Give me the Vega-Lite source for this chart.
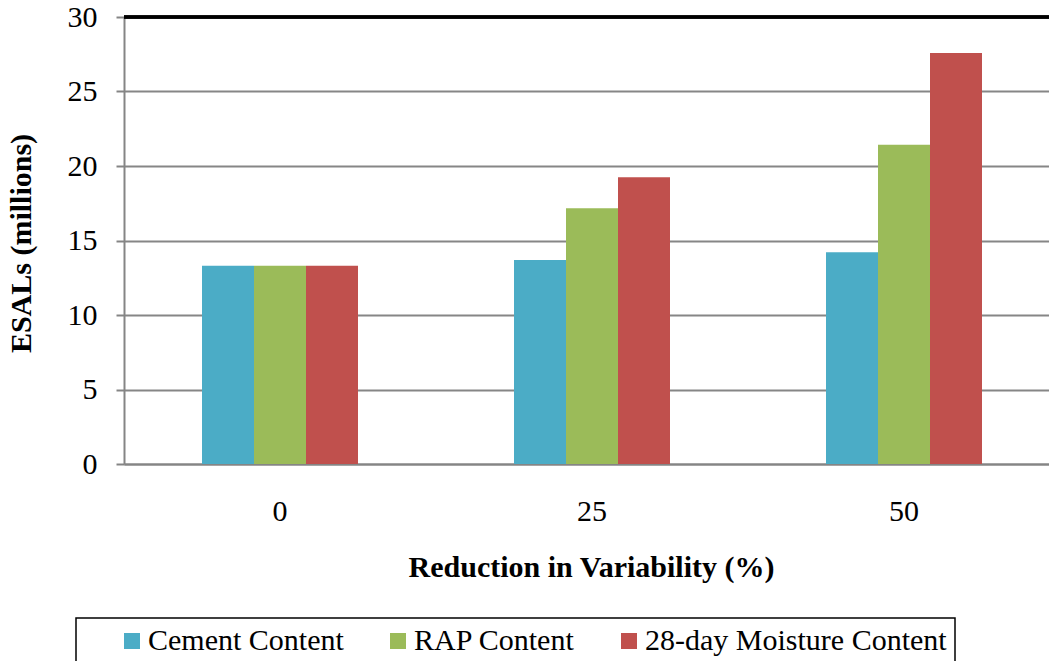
{
  "$schema": "https://vega.github.io/schema/vega-lite/v6.json",
  "width": 925,
  "height": 447,
  "autosize": {"type": "none"},
  "padding": {"left": 124, "top": 17, "right": 0, "bottom": 197},
  "background": "white",
  "config": {
    "view": {"stroke": null},
    "font": "Liberation Serif",
    "legend": {"strokeColor": "black", "strokeWidth": 1.5, "labelFont": "Liberation Serif"},
    "axis": {"labelFont": "Liberation Serif", "titleFont": "Liberation Serif"}
  },
  "data": {
    "values": [
      {"reduction": "0", "series": "Cement Content", "esals": 13.31},
      {"reduction": "0", "series": "RAP Content", "esals": 13.31},
      {"reduction": "0", "series": "28-day Moisture Content", "esals": 13.31},
      {"reduction": "25", "series": "Cement Content", "esals": 13.69},
      {"reduction": "25", "series": "RAP Content", "esals": 17.16},
      {"reduction": "25", "series": "28-day Moisture Content", "esals": 19.24},
      {"reduction": "50", "series": "Cement Content", "esals": 14.21},
      {"reduction": "50", "series": "RAP Content", "esals": 21.42},
      {"reduction": "50", "series": "28-day Moisture Content", "esals": 27.59}
    ]
  },
  "layer": [
    {
      "mark": {"type": "bar"},
      "encoding": {
        "x": {
          "field": "reduction",
          "type": "nominal",
          "sort": ["0", "25", "50"],
          "scale": {"range": [0, 936], "paddingInner": 0.5, "paddingOuter": 0.25},
          "axis": {
            "title": "Reduction in Variability (%)",
            "titleFontSize": 30,
            "titleFontWeight": "bold",
            "titleColor": "black",
            "titleBaseline": "alphabetic",
            "titleX": 467,
            "titleY": 112,
            "labelAngle": 0,
            "labelFontSize": 30,
            "labelColor": "black",
            "labelBaseline": "alphabetic",
            "labelPadding": 56,
            "ticks": false,
            "tickSize": 0,
            "domainColor": "#858585",
            "domainWidth": 2
          }
        },
        "xOffset": {
          "field": "series",
          "type": "nominal",
          "sort": ["Cement Content", "RAP Content", "28-day Moisture Content"],
          "scale": {"paddingInner": 0, "paddingOuter": 0}
        },
        "y": {
          "field": "esals",
          "type": "quantitative",
          "scale": {"domain": [0, 30], "nice": false},
          "axis": {
            "title": "ESALs (millions)",
            "titleFontSize": 30,
            "titleFontWeight": "bold",
            "titleColor": "black",
            "titleAngle": -90,
            "titleBaseline": "middle",
            "titleAlign": "center",
            "titleX": -103,
            "titleY": 226,
            "values": [0, 5, 10, 15, 20, 25, 30],
            "labelFontSize": 30,
            "labelColor": "black",
            "labelPadding": 19,
            "tickSize": 8,
            "tickColor": "#858585",
            "tickWidth": 2,
            "domainColor": "#858585",
            "domainWidth": 2,
            "grid": true,
            "gridColor": "#868686",
            "gridWidth": 2
          }
        },
        "color": {
          "field": "series",
          "type": "nominal",
          "scale": {
            "domain": ["Cement Content", "RAP Content", "28-day Moisture Content"],
            "range": ["#4BACC6", "#9BBB59", "#C0504D"]
          },
          "legend": {
            "title": null,
            "orient": "none",
            "legendX": -48,
            "legendY": 601,
            "direction": "horizontal",
            "columns": 3,
            "columnPadding": 6,
            "padding": 8,
            "symbolOffset": 33,
            "symbolType": "square",
            "symbolSize": 256,
            "symbolStrokeWidth": 0,
            "symbolOpacity": 1,
            "labelFontSize": 30,
            "labelColor": "black",
            "labelLimit": 400,
            "labelOffset": 1,
            "strokeColor": "black"
          }
        }
      }
    },
    {
      "mark": {"type": "rule", "color": "black", "strokeWidth": 2.5},
      "encoding": {"y": {"datum": 30}}
    }
  ]
}
